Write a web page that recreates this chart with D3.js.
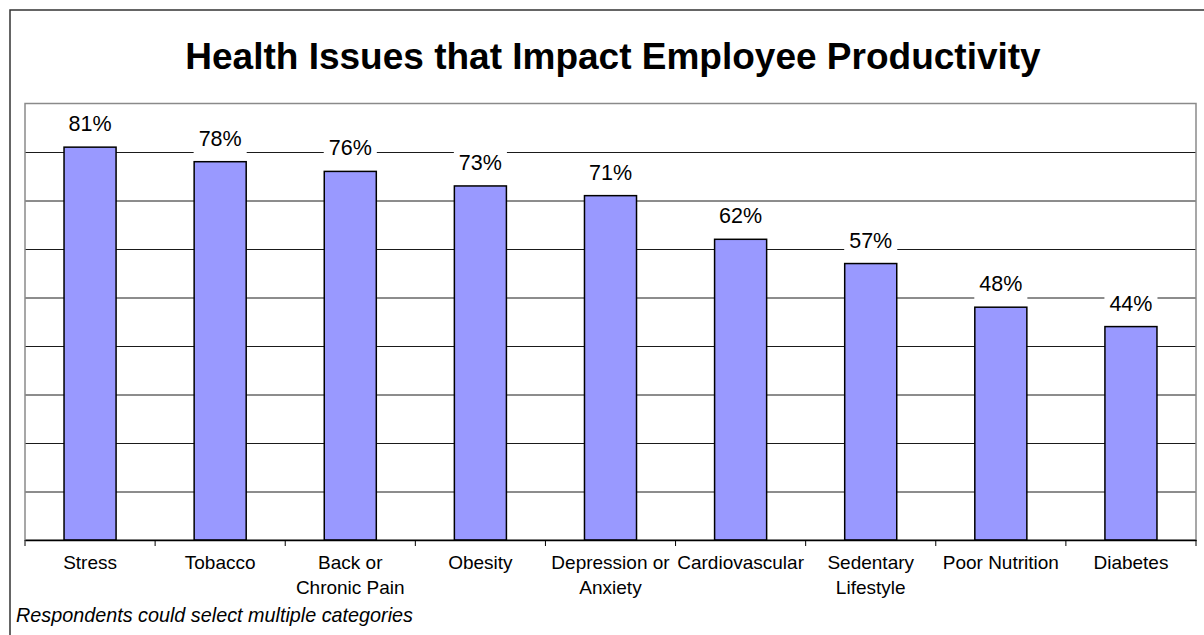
<!DOCTYPE html>
<html>
<head>
<meta charset="utf-8">
<script src="https://cdn.jsdelivr.net/npm/d3@7"></script>
<style>
  body { margin: 0; background: #fff; }
  svg { display: block; font-family: "Liberation Sans", Arial, sans-serif; }
</style>
</head>
<body>
<div id="chart"></div>
<script>
// Chart data
const categories = ["Stress", "Tobacco", "Back or\nChronic Pain", "Obesity", "Depression or\nAnxiety",
    "Cardiovascular", "Sedentary\nLifestyle", "Poor Nutrition", "Diabetes"];
const values = [81, 78, 76, 73, 71, 62, 57, 48, 44];
const yTicks = [0, 10, 20, 30, 40, 50, 60, 70, 80, 90];

const title = "Health Issues that Impact Employee Productivity";
const footnote = "Respondents could select multiple categories";

const width = 1204;
const height = 635;

// Plot area (in page pixels)
const plot = { left: 25, top: 103.5, right: 1196, bottom: 540 };

const svg = d3.select("#chart")
    .append("svg")
    .attr("width", width)
    .attr("height", height)
    .attr("viewBox", [0, 0, width, height]);

// Outer chart border (runs off the right and bottom edges)
svg.append("rect")
    .attr("x", 10)
    .attr("y", 10)
    .attr("width", 1210)
    .attr("height", 640)
    .attr("fill", "#fff")
    .attr("stroke", "#333")
    .attr("stroke-width", 1.5);

// Title
svg.append("text")
    .attr("x", 613)
    .attr("y", 69)
    .attr("text-anchor", "middle")
    .style("font-size", "37px")
    .style("font-weight", "bold")
    .text(title);

// Scales
const x = d3.scaleBand()
    .domain(categories)
    .range([plot.left, plot.right])
    .paddingInner(0)
    .paddingOuter(0);

const y = d3.scaleLinear()
    .domain([0, 90])
    .range([plot.bottom, plot.top]);

// Gridlines
svg.append("g")
    .selectAll("line")
    .data(yTicks.slice(1, -1))
    .join("line")
    .attr("x1", plot.left)
    .attr("x2", plot.right)
    .attr("y1", d => y(d) + 0.5)
    .attr("y2", d => y(d) + 0.5)
    .attr("stroke", "#1a1a1a")
    .attr("stroke-width", 1);

// Plot area border
svg.append("rect")
    .attr("x", plot.left)
    .attr("y", plot.top)
    .attr("width", plot.right - plot.left)
    .attr("height", plot.bottom - plot.top)
    .attr("fill", "none")
    .attr("stroke", "#8a8a8a")
    .attr("stroke-width", 1.5);

// Bars
const barW = x.bandwidth() * 0.4;
svg.append("g")
    .selectAll("rect")
    .data(values)
    .join("rect")
    .attr("x", (d, i) => x(categories[i]) + (x.bandwidth() - barW) / 2)
    .attr("y", d => y(d))
    .attr("width", barW)
    .attr("height", d => plot.bottom - y(d))
    .attr("fill", "#9999ff")
    .attr("stroke", "#000")
    .attr("stroke-width", 1.5);

// Category axis
const xAxis = svg.append("g")
    .attr("transform", `translate(0,${plot.bottom})`)
    .call(d3.axisBottom(x).tickSize(0).tickFormat(""));
xAxis.select(".domain").attr("stroke", "#000").attr("stroke-width", 1.5);

// Tick marks at band boundaries
svg.append("g")
    .selectAll("line")
    .data(d3.range(categories.length + 1))
    .join("line")
    .attr("x1", i => plot.left + i * x.step())
    .attr("x2", i => plot.left + i * x.step())
    .attr("y1", plot.bottom)
    .attr("y2", plot.bottom + 6)
    .attr("stroke", "#000")
    .attr("stroke-width", 1);

// Category labels (may wrap to two lines)
const catLabels = svg.append("g")
    .selectAll("text")
    .data(categories)
    .join("text")
    .attr("x", d => x(d) + x.bandwidth() / 2)
    .attr("y", 569)
    .attr("text-anchor", "middle")
    .style("font-size", "19px")
    .attr("fill", "#000");

catLabels.each(function (d) {
    d.split("\n").forEach((line, j) => {
        d3.select(this).append("tspan")
            .attr("x", x(d) + x.bandwidth() / 2)
            .attr("dy", j === 0 ? 0 : 25)
            .text(line);
    });
});

// Value labels with white background boxes
const valueGroup = svg.append("g");
values.forEach((v, i) => {
    const cx = x(categories[i]) + x.bandwidth() / 2;
    const by = y(v) - 16;
    const g = valueGroup.append("g");
    const bg = g.append("rect").attr("fill", "#fff");
    const t = g.append("text")
        .attr("x", cx)
        .attr("y", by)
        .attr("text-anchor", "middle")
        .style("font-size", "21.5px")
        .text(v + "%");
    const w = t.node().getComputedTextLength();
    bg.attr("x", cx - w / 2 - 5)
        .attr("y", by - 21)
        .attr("width", w + 10)
        .attr("height", 29);
});

// Footnote
svg.append("text")
    .attr("x", 16)
    .attr("y", 622)
    .style("font-size", "19.8px")
    .style("font-style", "italic")
    .text(footnote);
</script>
</body>
</html>
